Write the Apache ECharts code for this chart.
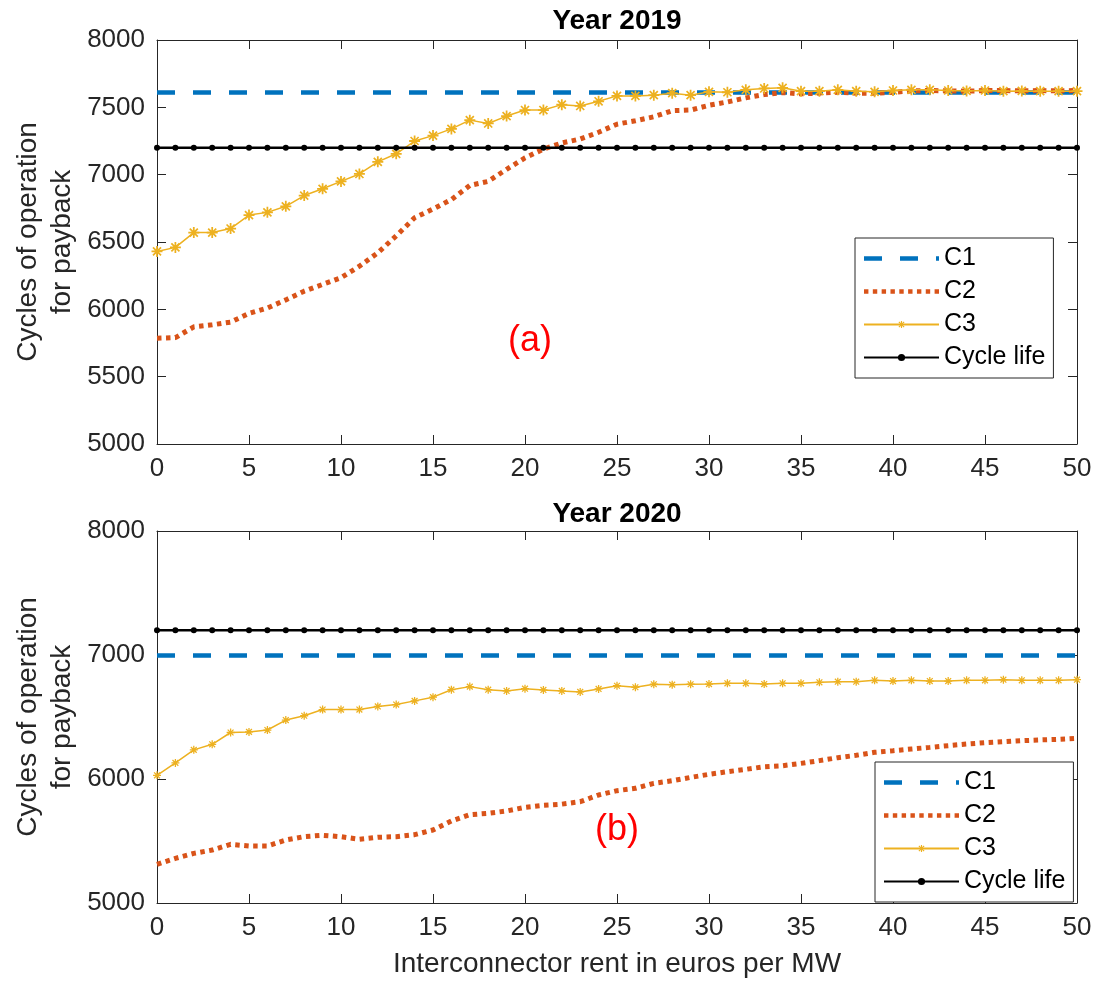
<!DOCTYPE html>
<html>
<head>
<meta charset="utf-8">
<script src="https://cdn.jsdelivr.net/npm/echarts@6/dist/echarts.min.js"></script>
<style>
html,body{margin:0;padding:0;background:#fff;}
#chart{width:1098px;height:981px;}
</style>
</head>
<body>
<div id="chart"></div>
<script>
// x values: interconnector rent (euros per MW)
const rent = [0,1,2,3,4,5,6,7,8,9,10,11,12,13,14,15,16,17,18,19,20,21,22,23,24,25,26,27,28,29,30,31,32,33,34,35,36,37,38,39,40,41,42,43,44,45,46,47,48,49,50];

// Year 2019
const c1_2019 = [7610,7610,7610,7610,7610,7610,7610,7610,7610,7610,7610,7610,7610,7610,7610,7610,7610,7610,7610,7610,7610,7610,7610,7610,7610,7610,7610,7610,7610,7610,7610,7610,7610,7610,7610,7610,7610,7610,7610,7610,7610,7610,7610,7610,7610,7610,7610,7610,7610,7610,7610];
const c2_2019 = [5785,5790,5870,5885,5905,5970,6010,6070,6135,6185,6235,6320,6420,6545,6680,6745,6815,6920,6950,7040,7125,7190,7235,7265,7315,7375,7400,7430,7475,7480,7515,7540,7570,7595,7610,7600,7605,7612,7605,7605,7612,7622,7625,7622,7620,7625,7625,7622,7625,7622,7625];
const c3_2019 = [6430,6460,6570,6570,6600,6700,6720,6765,6845,6895,6950,7005,7095,7155,7250,7290,7340,7405,7380,7435,7480,7480,7520,7510,7545,7585,7585,7590,7605,7590,7615,7612,7630,7640,7645,7620,7620,7630,7620,7615,7625,7630,7630,7625,7622,7625,7620,7622,7620,7620,7620];
const life_2019 = [7200,7200,7200,7200,7200,7200,7200,7200,7200,7200,7200,7200,7200,7200,7200,7200,7200,7200,7200,7200,7200,7200,7200,7200,7200,7200,7200,7200,7200,7200,7200,7200,7200,7200,7200,7200,7200,7200,7200,7200,7200,7200,7200,7200,7200,7200,7200,7200,7200,7200,7200];

// Year 2020
const c1_2020 = [6995,6995,6995,6995,6995,6995,6995,6995,6995,6995,6995,6995,6995,6995,6995,6995,6995,6995,6995,6995,6995,6995,6995,6995,6995,6995,6995,6995,6995,6995,6995,6995,6995,6995,6995,6995,6995,6995,6995,6995,6995,6995,6995,6995,6995,6995,6995,6995,6995,6995,6995];
const c2_2020 = [5312,5360,5400,5427,5473,5460,5460,5508,5535,5546,5535,5514,5530,5535,5551,5589,5661,5712,5723,5742,5772,5788,5797,5817,5871,5906,5925,5965,5986,6013,6038,6059,6078,6099,6107,6126,6148,6172,6191,6215,6228,6242,6255,6269,6282,6293,6301,6309,6315,6320,6328];
const c3_2020 = [6030,6130,6235,6280,6375,6380,6395,6475,6510,6560,6560,6560,6585,6600,6630,6660,6720,6745,6720,6710,6728,6718,6710,6702,6726,6752,6740,6764,6761,6764,6766,6772,6772,6766,6772,6772,6780,6785,6785,6796,6790,6796,6790,6790,6796,6796,6801,6796,6796,6796,6801];
const life_2020 = [7200,7200,7200,7200,7200,7200,7200,7200,7200,7200,7200,7200,7200,7200,7200,7200,7200,7200,7200,7200,7200,7200,7200,7200,7200,7200,7200,7200,7200,7200,7200,7200,7200,7200,7200,7200,7200,7200,7200,7200,7200,7200,7200,7200,7200,7200,7200,7200,7200,7200,7200];

const seriesNames = ['C1','C2','C3','Cycle life'];
const panelTitles = ['Year 2019','Year 2020'];
const panelTags = ['(a)','(b)'];
const yLabel = 'Cycles of operation\nfor payback';
const xLabel = 'Interconnector rent in euros per MW';

const FONT = '"Liberation Sans", Arial, Helvetica, sans-serif';
const AX = '#262626';
const COL = {c1:'#0072BD', c2:'#D95319', c3:'#EDB120', life:'#000000'};
const ASTERISK = 'path://M-0.8,-5L0.8,-5L0.8,5L-0.8,5Z M-5,-0.8L5,-0.8L5,0.8L-5,0.8Z M-3.1,-4.2L4.2,3.1L3.1,4.2L-4.2,-3.1Z M-4.2,3.1L3.1,-4.2L4.2,-3.1L-3.1,4.2Z';
// legend swatches drawn as filled shapes (dash pattern / dot pattern)
const DASH_ICON = 'path://M0,0h18v4.5h-18z M36,0h18v4.5h-18z M72,0h3v4.5h-3z';
const DOT_ICON = 'path://M0,0h4.5v4.5h-4.5z M9,0h4.5v4.5h-4.5z M18,0h4.5v4.5h-4.5z M27,0h4.5v4.5h-4.5z M36,0h4.5v4.5h-4.5z M45,0h4.5v4.5h-4.5z M54,0h4.5v4.5h-4.5z M63,0h4.5v4.5h-4.5z M72,0h4.5v4.5h-4.5z';

function pairs(ys){ return rent.map((x,i)=>[x, ys[i]]); }
const plain = v => String(v);

const grids = [
  {left:157, top:40, width:920, height:404},
  {left:157, top:531, width:920, height:372}
];

function xAxes(gi){
  const base = {type:'value', min:0, max:50, interval:5, gridIndex:gi,
    splitLine:{show:false},
    axisLine:{show:true, onZero:false, lineStyle:{color:AX, width:1}},
    axisTick:{show:true, inside:true, length:9, lineStyle:{color:AX, width:1}}};
  return [
    Object.assign({}, base, {position:'bottom',
      axisLabel:{show:true, color:AX, fontSize:26, fontFamily:FONT, margin:12, formatter:plain}}),
    Object.assign({}, base, {position:'top', axisLabel:{show:false}})
  ];
}
function yAxes(gi, interval){
  const base = {type:'value', min:5000, max:8000, interval:interval, gridIndex:gi,
    splitLine:{show:false},
    axisLine:{show:true, onZero:false, lineStyle:{color:AX, width:1}},
    axisTick:{show:true, inside:true, length:9, lineStyle:{color:AX, width:1}}};
  return [
    Object.assign({}, base, {position:'left',
      axisLabel:{show:true, color:AX, fontSize:26, fontFamily:FONT, margin:12, formatter:plain}}),
    Object.assign({}, base, {position:'right', axisLabel:{show:false}})
  ];
}

function panelSeries(gi, c1, c2, c3, life, starSize){
  const xi = gi*2, yi = gi*2;
  return [
    {name:seriesNames[0], type:'line', xAxisIndex:xi, yAxisIndex:yi, data:pairs(c1),
      symbol:'none', lineStyle:{color:COL.c1, width:4.5, type:[18,18], cap:'butt'},
      itemStyle:{color:COL.c1}, z:2},
    {name:seriesNames[1], type:'line', xAxisIndex:xi, yAxisIndex:yi, data:pairs(c2),
      symbol:'none', lineStyle:{color:COL.c2, width:5, type:[4.5,4.5], cap:'butt'},
      itemStyle:{color:COL.c2}, z:3},
    {name:seriesNames[2], type:'line', xAxisIndex:xi, yAxisIndex:yi, data:pairs(c3),
      symbol:ASTERISK, symbolSize:starSize, showSymbol:true,
      lineStyle:{color:COL.c3, width:1.5}, itemStyle:{color:COL.c3}, z:4},
    {name:seriesNames[3], type:'line', xAxisIndex:xi, yAxisIndex:yi, data:pairs(life),
      symbol:'circle', symbolSize:6, showSymbol:true,
      lineStyle:{color:COL.life, width:2.5}, itemStyle:{color:COL.life}, z:5}
  ];
}

function legend(left, top){
  return {show:true, orient:'vertical', left:left, top:top,
    data:[
      {name:seriesNames[0], icon:DASH_ICON},
      {name:seriesNames[1], icon:DOT_ICON},
      {name:seriesNames[2]},
      {name:seriesNames[3]}
    ],
    itemWidth:75, itemHeight:9, itemGap:6, padding:[7,8,7,8],
    backgroundColor:'#fff', borderColor:AX, borderWidth:1, borderRadius:0,
    selectedMode:false,
    textStyle:{fontSize:25, fontFamily:FONT, color:'#000', lineHeight:27}};
}

function txt(x, y, text, font, fill, rot){
  return {type:'text', x:x, y:y, rotation:rot||0, z:100, silent:true,
    style:{text:text, font:font, fill:fill, align:'center', verticalAlign:'middle',
      textAlign:'center', textVerticalAlign:'middle', lineHeight:34}};
}

const option = {
  animation:false,
  backgroundColor:'#fff',
  textStyle:{fontFamily:FONT},
  grid: grids.map(g=>Object.assign({containLabel:false, show:false}, g)),
  xAxis: [].concat(xAxes(0), xAxes(1)),
  yAxis: [].concat(yAxes(0,500), yAxes(1,1000)),
  legend: [legend(855,238), legend(875,762)],
  series: [].concat(
    panelSeries(0, c1_2019, c2_2019, c3_2019, life_2019, 11),
    panelSeries(1, c1_2020, c2_2020, c3_2020, life_2020, 8)
  ),
  graphic: [
    txt(617, 21, panelTitles[0], 'bold 28px ' + FONT, '#000'),
    txt(617, 514, panelTitles[1], 'bold 28px ' + FONT, '#000'),
    txt(530, 341, panelTags[0], '36px ' + FONT, '#FF0000'),
    txt(617, 830, panelTags[1], '36px ' + FONT, '#FF0000'),
    txt(45, 242, yLabel, '28px ' + FONT, AX, Math.PI/2),
    txt(45, 717, yLabel, '28px ' + FONT, AX, Math.PI/2),
    txt(617, 964, xLabel, '28px ' + FONT, AX)
  ]
};

const chart = echarts.init(document.getElementById('chart'), null, {renderer:'canvas'});
chart.setOption(option);
</script>
</body>
</html>
